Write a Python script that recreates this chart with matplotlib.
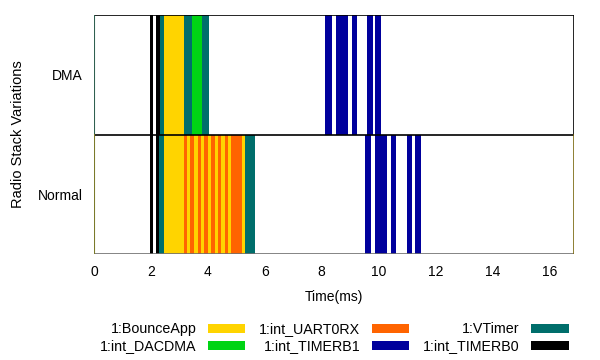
import matplotlib
matplotlib.use('Agg')
import matplotlib.pyplot as plt
from matplotlib.patches import Patch

plt.rcParams['font.family'] = ['Liberation Sans', 'DejaVu Sans']

rows = ['Normal', 'DMA']  # y = 0, 1

# Task colours, in legend order (column by column)
tasks = ['1:BounceApp', '1:int_DACDMA', '1:int_UART0RX',
         '1:int_TIMERB1', '1:VTimer', '1:int_TIMERB0']
colors = {
    '1:BounceApp': '#ffd400',
    '1:int_UART0RX': '#ff6400',
    '1:VTimer': '#006e6b',
    '1:int_DACDMA': '#00d414',
    '1:int_TIMERB1': '#00009c',
    '1:int_TIMERB0': '#000000',
}

# Segments (start ms, end ms) per row and task
dma = {
    '1:int_TIMERB0': [(1.97, 2.08), (2.18, 2.32)],
    '1:VTimer': [(2.32, 2.46), (3.16, 3.44), (3.80, 4.04)],
    '1:BounceApp': [(2.46, 3.16)],
    '1:int_DACDMA': [(3.44, 3.80)],
    '1:int_TIMERB1': [(8.13, 8.35), (8.49, 8.91), (9.05, 9.23), (9.61, 9.79), (9.89, 10.10)],
}
normal = {
    '1:int_TIMERB0': [(1.97, 2.08), (2.18, 2.30)],
    '1:VTimer': [(2.30, 2.46), (5.31, 5.66)],
    '1:BounceApp': [(2.46, 5.31)],
    '1:int_UART0RX': [(3.16, 3.27), (3.39, 3.51), (3.64, 3.76), (3.87, 3.99),
                      (4.11, 4.24), (4.36, 4.46), (4.59, 4.71), (4.80, 5.20)],
    '1:int_TIMERB1': [(9.51, 9.72), (9.86, 10.28), (10.45, 10.63), (11.01, 11.19), (11.27, 11.48)],
}

fig = plt.figure(figsize=(6, 3.6), dpi=100)
ax = fig.add_axes([0.1567, 0.2944, 0.8, 0.6639])

draw_order = ['1:BounceApp', '1:int_UART0RX', '1:VTimer', '1:int_DACDMA',
              '1:int_TIMERB1', '1:int_TIMERB0']
for y, data in [(0, normal), (1, dma)]:
    for t in draw_order:
        if t in data:
            segs = [(s, e - s) for s, e in data[t]]
            ax.broken_barh(segs, (y - 0.5, 1.0), facecolors=colors[t], edgecolor='none')

ax.set_xlim(0, 16.87)
ax.set_ylim(-0.5, 1.5)
ax.set_xticks(range(0, 17, 2))
ax.set_yticks([0, 1])
ax.set_yticklabels(rows)
ax.tick_params(length=0, labelsize=10, pad=8)
ax.set_xlabel('Time(ms)', fontsize=10, labelpad=8)
ax.set_ylabel('Radio Stack Variations', fontsize=10.5, labelpad=9)

# box: spines drawn piecewise like the original
for s in ax.spines.values():
    s.set_visible(False)
ax.axhline(1.5, color='black', lw=1.2)
ax.axhline(0.5, color='black', lw=1.2)
ax.axhline(-0.5, color='#707070', lw=1.2)
ax.axvline(0, ymin=0.5, ymax=1, color='#2f6050', lw=1.5)
ax.axvline(0, ymin=0, ymax=0.5, color='#7a7a2a', lw=1.5)
ax.axvline(16.87, ymin=0.5, ymax=1, color='black', lw=1.2)
ax.axvline(16.87, ymin=0, ymax=0.5, color='#7a6a10', lw=1.2)

handles = [Patch(facecolor=colors[t], edgecolor='none') for t in tasks]
fig.legend(handles, tasks, loc='upper center', bbox_to_anchor=(0.557, 0.14),
           ncol=3, frameon=False, markerfirst=False, fontsize=10.3,
           handlelength=2.6, handleheight=0.65, handletextpad=0.8,
           columnspacing=1.0, labelspacing=0.2)

fig.savefig('out.png', dpi=100)
